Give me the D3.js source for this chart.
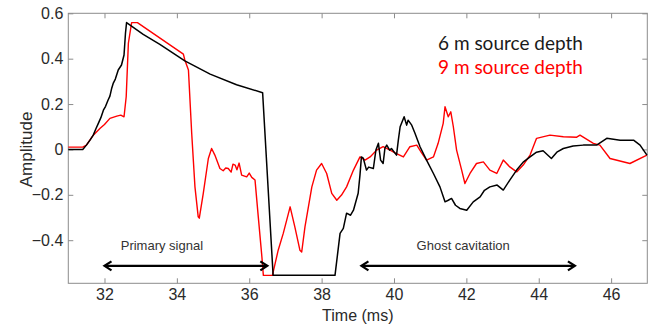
<!DOCTYPE html>
<html>
<head>
<meta charset="utf-8">
<script src="https://cdn.jsdelivr.net/npm/d3@7"></script>
<style>
  html, body { margin: 0; padding: 0; background: #fff; }
  svg { display: block; }
</style>
</head>
<body>
<svg id="chart" width="662" height="328"></svg>
<script>
// ---- Data ----
const xTicks = [32, 34, 36, 38, 40, 42, 44, 46];
const yTicks = [-0.4, -0.2, 0, 0.2, 0.4, 0.6];
const seriesNames = ["6 m source depth", "9 m source depth"];

// 6 m source depth (black)
const depth6 = [
  [31.0, 0], [31.4, 0], [31.5, 0.019], [31.6, 0.041], [31.69, 0.063], [31.76, 0.09], [31.83, 0.115],
  [31.9, 0.14], [31.97, 0.173], [32.03, 0.19], [32.1, 0.218], [32.15, 0.235], [32.2, 0.27], [32.24, 0.291],
  [32.3, 0.31], [32.38, 0.35], [32.47, 0.372], [32.54, 0.416], [32.58, 0.512], [32.61, 0.559],
  [33.07, 0.507], [33.53, 0.463], [34.22, 0.39], [34.92, 0.332], [35.65, 0.285], [36.37, 0.25],
  [36.66, -0.555], [38.37, -0.555], [38.51, -0.37], [38.6, -0.348], [38.69, -0.281], [38.8, -0.29],
  [38.88, -0.268], [39.01, -0.193], [39.06, -0.113], [39.1, -0.033], [39.15, -0.038], [39.24, -0.091],
  [39.3, -0.078], [39.43, -0.084], [39.5, -0.003], [39.57, 0.027], [39.63, -0.047], [39.7, -0.062],
  [39.75, 0.006], [39.8, 0.019], [39.88, -0.003], [39.93, 0.004], [40.07, -0.025], [40.12, 0.041],
  [40.17, 0.1], [40.28, 0.144], [40.35, 0.107], [40.39, 0.129], [40.49, 0.107], [40.58, 0.071],
  [40.72, 0.012], [40.9, -0.047], [41.09, -0.106], [41.27, -0.165], [41.41, -0.231], [41.5, -0.224],
  [41.59, -0.216], [41.7, -0.246], [41.82, -0.26], [42.01, -0.268], [42.19, -0.231], [42.38, -0.209],
  [42.5, -0.18], [42.65, -0.165], [42.85, -0.157], [43.02, -0.179], [43.2, -0.135], [43.39, -0.091],
  [43.57, -0.056], [43.76, -0.033], [43.94, -0.012], [44.12, -0.006], [44.35, -0.04], [44.5, -0.012],
  [44.68, 0.004], [44.95, 0.015], [45.23, 0.019], [45.6, 0.019], [45.88, 0.049], [46.25, 0.041],
  [46.62, 0.041], [46.8, 0.019], [46.99, -0.025]
];

// 9 m source depth (red)
const depth9 = [
  [31.0, 0.01], [31.4, 0.01], [31.5, 0.019], [31.69, 0.063], [31.88, 0.093], [32.0, 0.11],
  [32.15, 0.137], [32.34, 0.147], [32.45, 0.151], [32.54, 0.144], [32.6, 0.232], [32.66, 0.468],
  [32.75, 0.559], [32.91, 0.559], [34.18, 0.42], [34.22, 0.394], [34.32, 0.35], [34.41, 0.071],
  [34.5, -0.165], [34.59, -0.297], [34.62, -0.303], [34.73, -0.194], [34.87, -0.04], [34.96, 0.004],
  [35.05, -0.025], [35.19, -0.084], [35.28, -0.094], [35.35, -0.082], [35.42, -0.084], [35.5, -0.1],
  [35.55, -0.065], [35.61, -0.069], [35.66, -0.09], [35.72, -0.06], [35.79, -0.113], [35.93, -0.121],
  [36.0, -0.104], [36.07, -0.123], [36.16, -0.135], [36.25, -0.297], [36.35, -0.474], [36.39, -0.555],
  [36.64, -0.555], [36.8, -0.444], [36.94, -0.37], [37.13, -0.253], [37.26, -0.341], [37.4, -0.444],
  [37.45, -0.452], [37.54, -0.341], [37.73, -0.165], [37.86, -0.091], [38.0, -0.062], [38.14, -0.106],
  [38.28, -0.194], [38.42, -0.224], [38.55, -0.201], [38.69, -0.165], [38.88, -0.091], [39.06, -0.033],
  [39.2, -0.047], [39.34, -0.033], [39.52, -0.003], [39.7, 0.012], [39.89, -0.003], [40.07, -0.018],
  [40.26, -0.033], [40.44, 0.012], [40.63, 0.019], [40.75, -0.012], [40.9, -0.047], [41.09, -0.033],
  [41.22, 0.027], [41.36, 0.115], [41.41, 0.188], [41.5, 0.144], [41.57, 0.166], [41.64, 0.1],
  [41.73, -0.003], [41.87, -0.091], [41.96, -0.15], [42.1, -0.106], [42.28, -0.062], [42.47, -0.055],
  [42.65, -0.091], [42.84, -0.106], [43.02, -0.047], [43.2, -0.077], [43.39, -0.099], [43.57, -0.069],
  [43.76, -0.025], [43.94, 0.049], [44.31, 0.063], [44.68, 0.056], [45.05, 0.054], [45.14, 0.063],
  [45.51, 0.027], [45.69, 0.019], [45.97, -0.04], [46.52, -0.062], [46.99, -0.025]
];

// Annotations: label, arrow start, arrow end (ms), arrow level (amplitude)
const annLabels = ["Primary signal", "Ghost cavitation"];
const annStart = [32.0, 39.1];
const annEnd = [36.5, 45.0];
const annLevel = -0.513;
const annTextLevel = -0.445;

// ---- Layout ----
const svg = d3.select("#chart");
const pL = 68.3, pR = 647.3, pT = 13.3, pB = 283.3;
const x = d3.scaleLinear().domain([31, 47]).range([pL, pR]);
const y = d3.scaleLinear().domain([-0.59, 0.6]).range([pB, pT]);

const axisColor = "#8c8c8c";
const textColor = "#2a2a2a";
const fontAxis = "'Liberation Sans', Arial, Helvetica, sans-serif";

// Box
svg.append("rect").attr("x", pL).attr("y", pT)
  .attr("width", pR - pL).attr("height", pB - pT)
  .attr("fill", "none").attr("stroke", axisColor).attr("stroke-width", 1);

const fmt = v => {
  const s = d3.format(".1f")(Math.abs(v));
  const t = v === 0 ? "0" : s;
  return v < 0 ? "\u2212" + t : t;
};

// Axes (inward ticks)
const gx = svg.append("g").attr("transform", `translate(0,${pB})`)
  .call(d3.axisBottom(x).tickValues(xTicks).tickSizeInner(-5).tickSizeOuter(0).tickPadding(5).tickFormat(d3.format("d")));
const gxTop = svg.append("g").attr("transform", `translate(0,${pT})`)
  .call(d3.axisTop(x).tickValues(xTicks).tickSizeInner(-5).tickSizeOuter(0).tickFormat(""));
const gy = svg.append("g").attr("transform", `translate(${pL},0)`)
  .call(d3.axisLeft(y).tickValues(yTicks).tickSizeInner(-5).tickSizeOuter(0).tickPadding(5).tickFormat(fmt));
const gyR = svg.append("g").attr("transform", `translate(${pR},0)`)
  .call(d3.axisRight(y).tickValues(yTicks).tickSizeInner(-5).tickSizeOuter(0).tickFormat(""));

[gx, gxTop, gy, gyR].forEach(g => {
  g.attr("font-family", null).attr("font-size", null);
  g.select(".domain").remove();
  g.selectAll(".tick line").attr("stroke", axisColor);
  g.selectAll("text").attr("fill", textColor).style("font-family", fontAxis).style("font-size", "16px");
});

// Axis titles
svg.append("text").attr("x", x(39)).attr("y", 321)
  .attr("text-anchor", "middle").attr("fill", textColor)
  .style("font-family", fontAxis).style("font-size", "16px").text("Time (ms)");
svg.append("text").attr("transform", `translate(32,${y(0.0)}) rotate(-90)`)
  .attr("text-anchor", "middle").attr("fill", textColor)
  .style("font-family", fontAxis).style("font-size", "17px").text("Amplitude");

// Lines
const line = d3.line().x(d => x(d[0])).y(d => y(d[1]));
svg.append("path").datum(depth9).attr("d", line)
  .attr("fill", "none").attr("stroke", "#ff0000").attr("stroke-width", 1.4).attr("stroke-linejoin", "round");
svg.append("path").datum(depth6).attr("d", line)
  .attr("fill", "none").attr("stroke", "#000").attr("stroke-width", 1.5).attr("stroke-linejoin", "round");

// Legend text
const legColors = ["#1a1a1a", "#ff0000"];
seriesNames.forEach((s, i) => {
  svg.append("text").attr("x", 438).attr("y", 50 + i * 24)
    .attr("fill", legColors[i])
    .style("font-family", "Lato, 'Open Sans', sans-serif").style("font-size", "19px").text(s);
});

// Annotations with double arrows
annLabels.forEach((lab, i) => {
  const x0 = x(annStart[i]), x1 = x(annEnd[i]), yy = y(annLevel);
  svg.append("line").attr("x1", x0 + 1).attr("x2", x1 - 1).attr("y1", yy).attr("y2", yy)
    .attr("stroke", "#000").attr("stroke-width", 2.2);
  const head = 7, hw = 4.5;
  svg.append("path").attr("d", `M${x0 + head},${yy - hw} L${x0},${yy} L${x0 + head},${yy + hw}`)
    .attr("fill", "none").attr("stroke", "#000").attr("stroke-width", 2.2);
  svg.append("path").attr("d", `M${x1 - head},${yy - hw} L${x1},${yy} L${x1 - head},${yy + hw}`)
    .attr("fill", "none").attr("stroke", "#000").attr("stroke-width", 2.2);
  svg.append("text").attr("x", (x0 + x1) / 2 - (i === 0 ? 24 : 5)).attr("y", y(annTextLevel))
    .attr("text-anchor", "middle").attr("fill", "#333")
    .style("font-family", fontAxis).style("font-size", "13px").text(lab);
});
</script>
</body>
</html>
